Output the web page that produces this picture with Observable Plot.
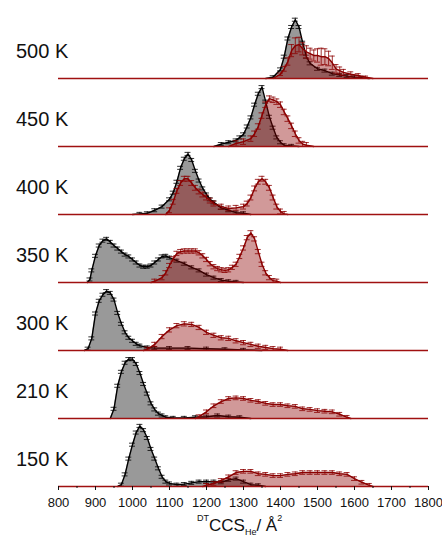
<!DOCTYPE html>
<html>
<head>
<meta charset="utf-8">
<script src="https://cdn.jsdelivr.net/npm/d3@7"></script>
<script src="https://cdn.jsdelivr.net/npm/@observablehq/plot@0.6"></script>
<style>
  html, body { margin: 0; padding: 0; background: #fff; }
  #wrap { position: relative; width: 442px; height: 537px; overflow: hidden; font-family: "Liberation Sans", Arial, sans-serif; }
  #wrap svg { display: block; }
  #xtitle { position: absolute; left: 0; width: 442px; top: 516px; line-height: 20px; font-size: 17px; color: #111; white-space: nowrap; }
  #xtitle .in { position: absolute; left: 197px; }
  .sup { font-size: 9px; vertical-align: 10px; line-height: 0; }
  .sub { font-size: 9px; vertical-align: -4px; line-height: 0; }
</style>
</head>
<body>
<div id="wrap"><div id="xtitle"><span class="in"><span class="sup">DT</span>CCS<span class="sub">He</span>/ Å<span class="sup">2</span></span></div></div>
<script>
// Panel (temperature) labels, top to bottom
const panels = ["500 K", "450 K", "400 K", "350 K", "300 K", "210 K", "150 K"];

// x-axis ticks (CCS, Å²)
const majorTicks = [800, 900, 1000, 1100, 1200, 1300, 1400, 1500, 1600, 1700, 1800];
const minorTicks = [850, 950, 1050, 1150, 1250, 1350, 1450, 1550, 1650, 1750];

// Gray (black-line) distributions: [CCS, normalized intensity]
const g500 = [[1360,0],[1380,0.02],[1400,0.15],[1410,0.36],[1420,0.66],[1430,0.85],[1440,0.97],[1450,0.85],[1460,0.59],[1470,0.36],[1480,0.25],[1500,0.16],[1520,0.13],[1540,0.08],[1560,0.06],[1580,0.04],[1600,0.02],[1620,0.01],[1640,0]];
const g450 = [[1220,0],[1240,0.04],[1260,0.07],[1280,0.10],[1290,0.15],[1300,0.20],[1310,0.33],[1320,0.48],[1330,0.69],[1340,0.87],[1350,0.98],[1360,0.74],[1370,0.49],[1380,0.31],[1390,0.15],[1400,0.07],[1410,0.02],[1430,0.01],[1450,0]];
const g400 = [[1000,0],[1020,0.01],[1040,0.02],[1060,0.07],[1080,0.13],[1100,0.25],[1110,0.36],[1120,0.54],[1130,0.77],[1140,0.92],[1150,1.0],[1160,0.90],[1170,0.72],[1180,0.56],[1190,0.43],[1200,0.33],[1210,0.25],[1220,0.20],[1240,0.11],[1260,0.07],[1280,0.03],[1300,0.02],[1320,0]];
const g350 = [[878,0],[885,0.05],[890,0.20],[900,0.44],[910,0.61],[920,0.69],[930,0.72],[940,0.67],[950,0.61],[960,0.56],[970,0.51],[980,0.46],[990,0.43],[1000,0.38],[1010,0.33],[1020,0.28],[1030,0.26],[1040,0.26],[1050,0.28],[1060,0.33],[1070,0.38],[1080,0.43],[1090,0.44],[1100,0.41],[1120,0.36],[1140,0.31],[1160,0.25],[1180,0.20],[1200,0.13],[1220,0.08],[1240,0.04],[1260,0.02],[1280,0.01],[1300,0]];
const g300 = [[870,0],[880,0.03],[890,0.20],[900,0.61],[910,0.82],[920,0.92],[930,0.98],[940,0.95],[950,0.84],[960,0.62],[970,0.44],[980,0.30],[990,0.21],[1000,0.16],[1010,0.11],[1020,0.08],[1040,0.05],[1060,0.04],[1100,0.04],[1150,0.04],[1200,0.03],[1250,0.02],[1300,0.01],[1350,0]];
const g210 = [[940,0],[950,0.16],[960,0.54],[970,0.77],[980,0.92],[990,0.98],[1000,0.98],[1010,0.90],[1020,0.75],[1030,0.57],[1040,0.41],[1050,0.25],[1060,0.15],[1070,0.08],[1080,0.05],[1090,0.02],[1110,0.01],[1140,0.01],[1170,0.02],[1200,0.03],[1230,0.05],[1260,0.03],[1290,0.02],[1320,0]];
const g150 = [[960,0],[970,0.03],[980,0.20],[990,0.46],[1000,0.69],[1010,0.89],[1020,1.0],[1030,0.93],[1040,0.80],[1050,0.62],[1060,0.46],[1070,0.30],[1080,0.16],[1090,0.08],[1100,0.05],[1120,0.03],[1140,0.04],[1160,0.06],[1180,0.08],[1200,0.08],[1220,0.08],[1240,0.07],[1260,0.11],[1280,0.13],[1300,0.08],[1320,0.03],[1340,0.02],[1360,0]];

// Red distributions: [CCS, normalized intensity]
const r500 = [[1380,0],[1400,0.07],[1410,0.16],[1420,0.28],[1430,0.46],[1440,0.54],[1450,0.56],[1460,0.49],[1470,0.44],[1480,0.41],[1490,0.38],[1500,0.38],[1510,0.36],[1520,0.36],[1530,0.33],[1540,0.26],[1550,0.16],[1560,0.13],[1570,0.10],[1590,0.07],[1610,0.05],[1630,0.02],[1650,0]];
const r450 = [[1260,0],[1280,0.05],[1300,0.08],[1320,0.13],[1330,0.21],[1340,0.33],[1350,0.51],[1360,0.69],[1370,0.79],[1380,0.77],[1390,0.74],[1400,0.69],[1410,0.57],[1420,0.46],[1430,0.34],[1440,0.21],[1450,0.10],[1460,0.04],[1470,0.02],[1490,0]];
const r400 = [[1090,0],[1100,0.07],[1110,0.21],[1120,0.39],[1130,0.52],[1140,0.59],[1150,0.59],[1160,0.52],[1170,0.44],[1180,0.38],[1190,0.33],[1200,0.28],[1210,0.23],[1220,0.18],[1240,0.13],[1260,0.10],[1280,0.11],[1300,0.13],[1310,0.18],[1320,0.28],[1330,0.43],[1340,0.54],[1350,0.59],[1360,0.54],[1370,0.44],[1380,0.28],[1390,0.13],[1400,0.05],[1410,0.01],[1420,0]];
const r350 = [[1050,0],[1060,0.02],[1080,0.08],[1090,0.16],[1100,0.28],[1110,0.39],[1120,0.48],[1130,0.51],[1140,0.52],[1150,0.52],[1160,0.52],[1170,0.52],[1180,0.49],[1190,0.44],[1200,0.38],[1210,0.31],[1220,0.26],[1230,0.23],[1240,0.21],[1250,0.20],[1260,0.21],[1270,0.25],[1280,0.30],[1290,0.43],[1300,0.57],[1310,0.74],[1320,0.82],[1330,0.72],[1340,0.51],[1350,0.30],[1360,0.16],[1370,0.08],[1380,0.03],[1390,0.02],[1400,0]];
const r300 = [[1030,0],[1040,0.02],[1060,0.10],[1080,0.23],[1100,0.34],[1120,0.41],[1140,0.44],[1160,0.43],[1180,0.38],[1200,0.30],[1220,0.25],[1240,0.21],[1260,0.20],[1280,0.16],[1300,0.13],[1320,0.10],[1340,0.07],[1360,0.05],[1380,0.03],[1400,0.02],[1420,0]];
const r210 = [[1170,0],[1180,0.03],[1200,0.11],[1220,0.21],[1240,0.28],[1260,0.33],[1280,0.34],[1300,0.33],[1320,0.30],[1340,0.28],[1360,0.25],[1380,0.23],[1400,0.23],[1420,0.21],[1440,0.20],[1460,0.16],[1480,0.15],[1500,0.13],[1520,0.12],[1540,0.11],[1560,0.07],[1580,0.02],[1590,0]];
const r150 = [[1190,0],[1200,0.02],[1220,0.05],[1240,0.10],[1260,0.16],[1280,0.23],[1300,0.25],[1320,0.25],[1340,0.21],[1360,0.20],[1380,0.18],[1400,0.18],[1420,0.20],[1440,0.21],[1460,0.23],[1480,0.23],[1500,0.23],[1520,0.23],[1540,0.23],[1560,0.21],[1580,0.20],[1600,0.13],[1620,0.07],[1640,0.02],[1650,0]];

// Error bar half-heights (normalized units)
const r500Err = [0,0.02,0.04,0.06,0.10,0.13,0.12,0.10,0.10,0.09,0.09,0.11,0.14,0.13,0.12,0.11,0.07,0.06,0.05,0.04,0.03,0.02,0];
const grayErr = [0.025, 0.025, 0.025, 0.025, 0.025, 0.025, 0.025];
const redErr  = [null, 0.045, 0.04, 0.035, 0.035, 0.03, 0.03];

const graySeries = [g500, g450, g400, g350, g300, g210, g150];
const redSeries  = [r500, r450, r400, r350, r300, r210, r150];

function toRows(series, errs, perPoint) {
  return series.flatMap((pts, k) => pts.map(([x, y], i) => ({
    panel: panels[k], x, y,
    e: (k === 0 && perPoint) ? perPoint[i] : errs[k]
  })));
}
const grayRows = toRows(graySeries, grayErr, null);
const redRows = toRows(redSeries, redErr, r500Err);

const RED = "#8b0000";
const CAP = 8;

function errorMarks(rows, color, w) {
  const pts = rows.filter(d => d.y > 0);
  return [
    Plot.ruleX(pts, {x: "x", y1: d => Math.max(0, d.y - d.e), y2: d => d.y + d.e, fy: "panel", stroke: color, strokeWidth: w}),
    Plot.ruleY(pts, {y: d => d.y + d.e, x1: d => d.x - CAP, x2: d => d.x + CAP, fy: "panel", stroke: color, strokeWidth: w}),
    Plot.ruleY(pts, {y: d => Math.max(0, d.y - d.e), x1: d => d.x - CAP, x2: d => d.x + CAP, fy: "panel", stroke: color, strokeWidth: w})
  ];
}

const chart = Plot.plot({
  width: 442,
  height: 517,
  marginLeft: 58,
  marginRight: 14,
  marginTop: 8.5,
  marginBottom: 29.3,
  style: {fontFamily: "'Liberation Sans', Arial, sans-serif", fontSize: "13px", color: "#111", background: "#fff", overflow: "visible"},
  x: {domain: [800, 1800]},
  y: {domain: [0, 1.122], axis: null},
  fy: {domain: panels, padding: 0, axis: null},
  marks: [
    Plot.areaY(grayRows, {x: "x", y: "y", fy: "panel", fill: "#000", fillOpacity: 0.4}),
    Plot.lineY(grayRows, {x: "x", y: "y", fy: "panel", stroke: "#000", strokeWidth: 1.4}),
    ...errorMarks(grayRows, "#000", 0.8),
    Plot.areaY(redRows, {x: "x", y: "y", fy: "panel", fill: RED, fillOpacity: 0.4}),
    Plot.lineY(redRows, {x: "x", y: "y", fy: "panel", stroke: RED, strokeWidth: 1.4}),
    ...errorMarks(redRows, RED, 0.8),
    Plot.ruleY([0], {stroke: "#a01010", strokeWidth: 1.5}),
    Plot.text(panels, {fy: d => d, text: d => d, frameAnchor: "bottom-left", dx: -42.5, dy: -21, textAnchor: "start", lineAnchor: "bottom", fontSize: 20, fill: "#111"}),
    Plot.axisX({ticks: minorTicks, tickSize: 2, tickFormat: () => "", facetAnchor: "bottom", label: null}),
    Plot.axisX({ticks: majorTicks, tickSize: 4, tickPadding: 7.5, tickFormat: d => String(d), facetAnchor: "bottom", label: null, fontSize: 13})
  ]
});
document.getElementById("wrap").prepend(chart);
</script>
</body>
</html>
